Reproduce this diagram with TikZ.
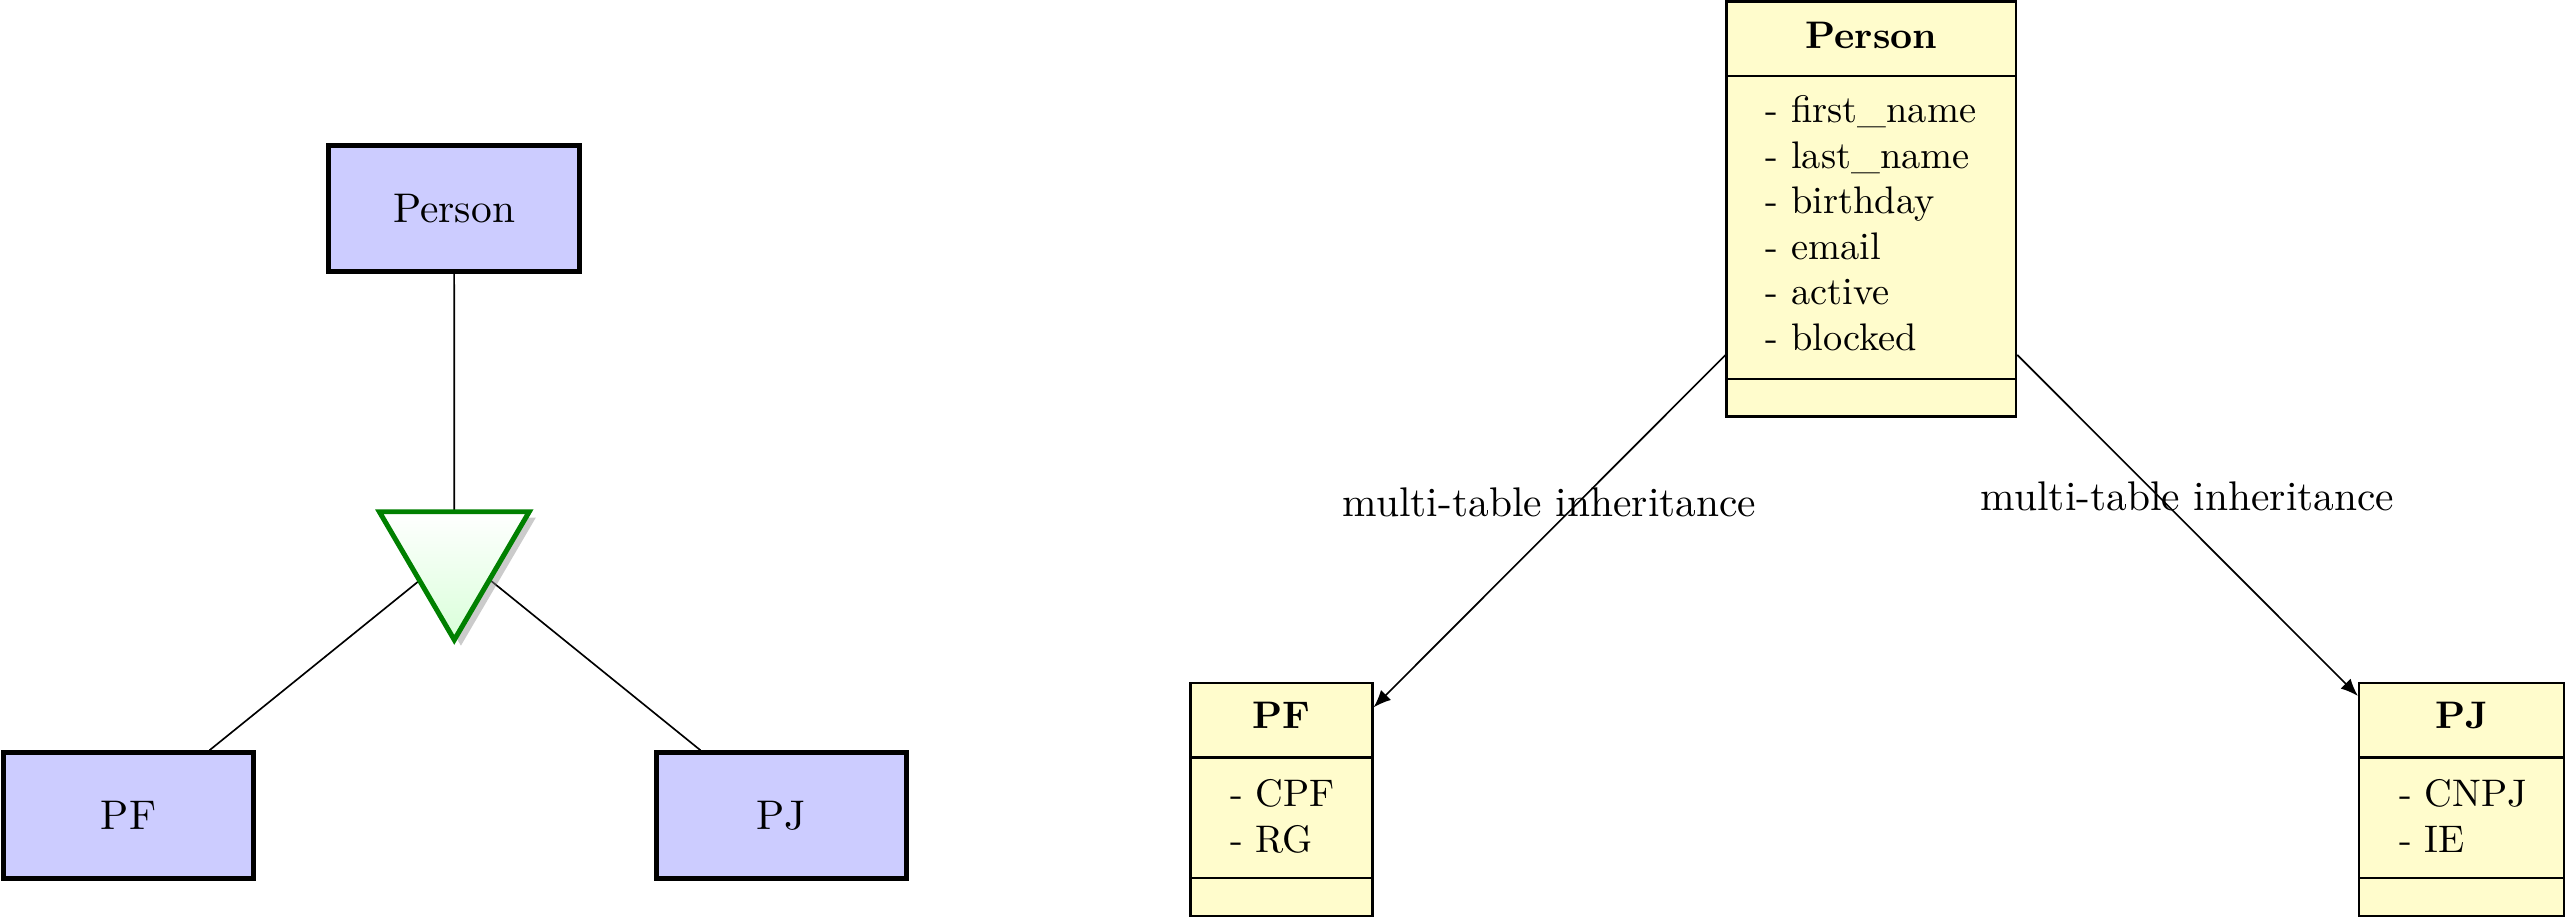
\documentclass[tikz,border=0pt]{standalone}
\usetikzlibrary{shadows,arrows.meta}
\begin{document}
\begin{tikzpicture}[x=0.395pt,y=-0.395pt,
  erbox/.style={draw=black, very thick, fill=blue!20, inner sep=0pt,
    minimum width={153*0.395pt}, minimum height={77*0.395pt}},
  umlbox/.style={draw=black, semithick, fill=yellow!20, inner sep=0pt},
  divider/.style={draw=black, semithick},
  attr/.style={anchor=base west, inner sep=0pt, scale=0.927, transform shape},
  ttl/.style={anchor=base, inner sep=0pt, font=\bfseries, scale=0.927, transform shape},
  link/.style={draw=black},
  inh/.style={draw=black, -{Latex[length=4.2pt,width=3.4pt]}},
  lbl/.style={midway, above, fill=none}]
\useasboundingbox (0,0) rectangle (1568,561);

% ---------- left: ER specialisation ----------
\node[erbox] (erP) at (277.5,127.5) {Person};
\node[erbox] (erPF) at (78.5,498.5) {PF};
\node[erbox] (erPJ) at (477.5,498.5) {PJ};

\coordinate (ttop) at (277.6,312.7);
\coordinate (tl) at (256,355);
\coordinate (tr) at (299.4,354.4);

\draw[link] (erP) -- (ttop);
\draw[link] (tl) -- (erPF);
\draw[link] (tr) -- (erPJ);

\path[draw=green!50!black, very thick, top color=white, bottom color=green!15,
  drop shadow={shadow xshift=1.6pt, shadow yshift=-1.4pt, opacity=0.45, fill=black!45}]
  (231.8,312.7) -- (323.4,312.7) -- (277.6,391) -- cycle;

% ---------- right: UML classes ----------
\node[umlbox, minimum width={176.8*0.395pt}, minimum height={253.6*0.395pt}] (uP) at (1143.5,127.8) {};
\draw[divider] (1055.1,46.4) -- (1231.9,46.4);
\draw[divider] (1055.1,231.6) -- (1231.9,231.6);
\node[ttl] (uPt) at (1143.5,29.5) {Person};
\node[attr] (a1) at (1078.5,75.0) {- first\_name};
\node[attr] (a2) at (1078.5,102.8) {- last\_name};
\node[attr] (a3) at (1078.5,130.6) {- birthday};
\node[attr] (a4) at (1078.5,158.4) {- email};
\node[attr] (a5) at (1078.5,186.2) {- active};
\node[attr] (a6) at (1078.5,214.0) {- blocked};

\node[umlbox, minimum width={111*0.395pt}, minimum height={142.5*0.395pt}] (uPF) at (783.1,488.5) {};
\draw[divider] (727.6,463) -- (838.6,463);
\draw[divider] (727.6,536.6) -- (838.6,536.6);
\node[ttl] (uPFt) at (783.1,445) {PF};
\node[attr] (b1) at (751.2,493) {- CPF};
\node[attr] (b2) at (751.2,521) {- RG};

\node[umlbox, minimum width={125.2*0.395pt}, minimum height={142.5*0.395pt}] (uPJ) at (1504.2,488.5) {};
\draw[divider] (1441.6,463) -- (1566.8,463);
\draw[divider] (1441.6,536.6) -- (1566.8,536.6);
\node[ttl] (uPJt) at (1504.2,445) {PJ};
\node[attr] (c1) at (1465.5,493) {- CNPJ};
\node[attr] (c2) at (1465.5,521) {- IE};

\draw[inh] (uP) -- node[lbl] {multi-table inheritance} (uPF);
\draw[inh] (uP) -- node[lbl] {multi-table inheritance} (uPJ);
\end{tikzpicture}
\end{document}
